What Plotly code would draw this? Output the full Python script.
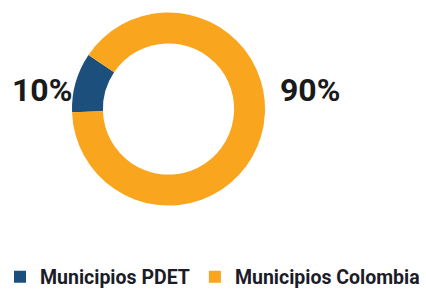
import plotly.graph_objects as go

categories = ["Municipios PDET", "Municipios Colombia"]
values = [10, 90]
colors = ["#1d4f7d", "#f9a51e"]

W, H = 426, 289
cx, cy, R = 168.5, 109, 96.5

fig = go.Figure(go.Pie(
    labels=categories,
    values=values,
    hole=0.68,
    sort=False,
    direction="clockwise",
    rotation=268,
    textinfo="none",
    hoverinfo="label+percent",
    marker=dict(colors=colors, line=dict(width=0)),
    domain=dict(x=[(cx - R) / W, (cx + R) / W],
                y=[(H - cy - R) / H, (H - cy + R) / H]),
))

label_pos = [(42, 90), (310, 90)]
for v, (px, py) in zip(values, label_pos):
    fig.add_annotation(x=px / W, y=1 - py / H, xref="paper", yref="paper",
                       text=f"<b>{v}%</b>", showarrow=False,
                       font=dict(family="Roboto", size=32, color="#1a1a1a"),
                       xanchor="center", yanchor="middle")

fig.update_layout(
    width=W, height=H,
    margin=dict(l=0, r=0, t=0, b=0, autoexpand=False),
    paper_bgcolor="white",
    plot_bgcolor="white",
    showlegend=True,
    legend=dict(orientation="h", x=0, xanchor="left", y=1 - 277 / H,
                yanchor="middle", font=dict(family="Roboto", size=19.5, color="#1c1c28", weight="bold"),
                itemwidth=30, tracegroupgap=0, traceorder="normal",
                bgcolor="rgba(0,0,0,0)"),
)

fig.write_html("out.html", config={"displayModeBar": False},
               post_script="document.body.style.margin='0';")
